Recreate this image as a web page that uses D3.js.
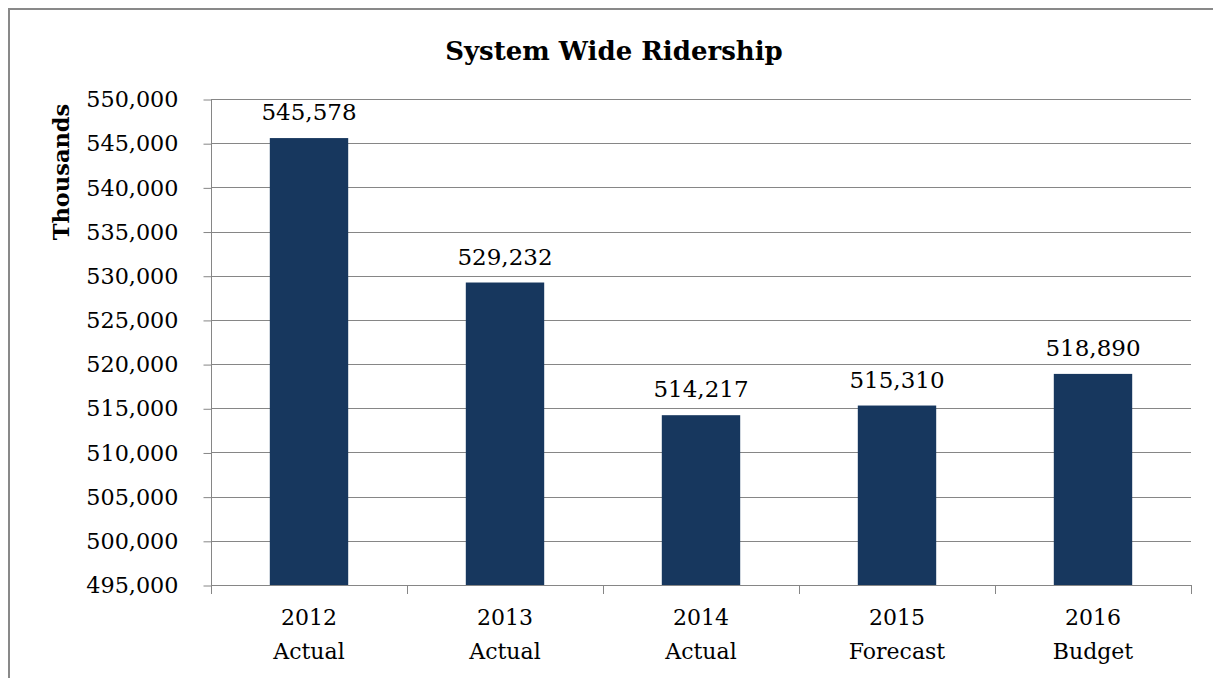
<!DOCTYPE html>
<html><head><meta charset="utf-8">
<script src="https://cdn.jsdelivr.net/npm/d3@7"></script>
<style>body{margin:0;background:#fff}svg{display:block}</style>
</head><body>
<svg id="c" width="1213" height="678"></svg>
<script>
const years = ["2012","2013","2014","2015","2016"];
const kinds = ["Actual","Actual","Actual","Forecast","Budget"];
const values = [545578, 529232, 514217, 515310, 518890];
const yTicks = [495000,500000,505000,510000,515000,520000,525000,530000,535000,540000,545000,550000];
const title = "System Wide Ridership";
const yTitle = "Thousands";

const svg = d3.select("#c");
const font = "'DejaVu Serif', serif";
const L = 211, R = 1191, T = 99, B = 585;
const grey = "#868686";

svg.append("rect").attr("x",9).attr("y",9).attr("width",1220).attr("height",700)
  .attr("fill","#fff").attr("stroke","#898989").attr("stroke-width",2);

const x = d3.scaleBand().domain(years).range([L,R]).padding(0);
const y = d3.scaleLinear().domain([495000,550000]).range([B,T]);

svg.append("g").selectAll("line").data(yTicks).join("line")
  .attr("x1",L).attr("x2",R).attr("y1",d=>Math.round(y(d))+0.5).attr("y2",d=>Math.round(y(d))+0.5)
  .attr("stroke",grey).attr("stroke-width",1);

const bw = x.bandwidth()*0.4;
svg.append("g").selectAll("rect").data(values).join("rect")
  .attr("x",(d,i)=>x(years[i])+x.bandwidth()/2-bw/2)
  .attr("width",bw)
  .attr("y",d=>y(d)).attr("height",d=>B-y(d))
  .attr("fill","#17375e");

const yAxis = d3.axisLeft(y).tickValues(yTicks).tickSize(8).tickPadding(25)
  .tickFormat(d3.format(","));
const ga = svg.append("g").attr("transform",`translate(${L+0.5},0.5)`).call(yAxis);
ga.select(".domain").remove();
ga.selectAll(".tick line").attr("stroke",grey);
ga.selectAll("text").attr("font-family",font).attr("font-size",22.3).attr("fill","#000");
svg.append("line").attr("x1",L+0.5).attr("x2",L+0.5).attr("y1",T).attr("y2",B+9).attr("stroke",grey);

const xg = svg.append("g");
xg.append("line").attr("x1",L).attr("x2",R).attr("y1",B+0.5).attr("y2",B+0.5).attr("stroke",grey);
const bounds = years.map(d=>x(d)).concat([R]);
xg.selectAll("line.t").data(bounds).join("line").attr("class","t")
  .attr("x1",d=>Math.round(d)+0.5).attr("x2",d=>Math.round(d)+0.5).attr("y1",B).attr("y2",B+9).attr("stroke",grey);
const lab = xg.selectAll("text.c").data(years).join("text").attr("class","c")
  .attr("x",d=>x(d)+x.bandwidth()/2).attr("y",625)
  .attr("text-anchor","middle").attr("font-family",font).attr("font-size",22).attr("fill","#000");
lab.append("tspan").attr("x",d=>x(d)+x.bandwidth()/2).text(d=>d);
lab.append("tspan").attr("x",d=>x(d)+x.bandwidth()/2).attr("dy",34).text((d,i)=>kinds[i]);

svg.append("g").selectAll("text").data(values).join("text")
  .attr("x",(d,i)=>x(years[i])+x.bandwidth()/2).attr("y",d=>y(d)-18)
  .attr("text-anchor","middle").attr("font-family",font).attr("font-size",23).attr("fill","#000")
  .text(d=>d3.format(",")(d));

svg.append("text").attr("x",614).attr("y",60).attr("text-anchor","middle")
  .attr("font-family",font).attr("font-weight","bold").attr("font-size",26).text(title);
svg.append("text").attr("transform",`translate(69,${172}) rotate(-90)`).attr("text-anchor","middle")
  .attr("font-family",font).attr("font-weight","bold").attr("font-size",22.5).text(yTitle);
</script>
</body></html>
